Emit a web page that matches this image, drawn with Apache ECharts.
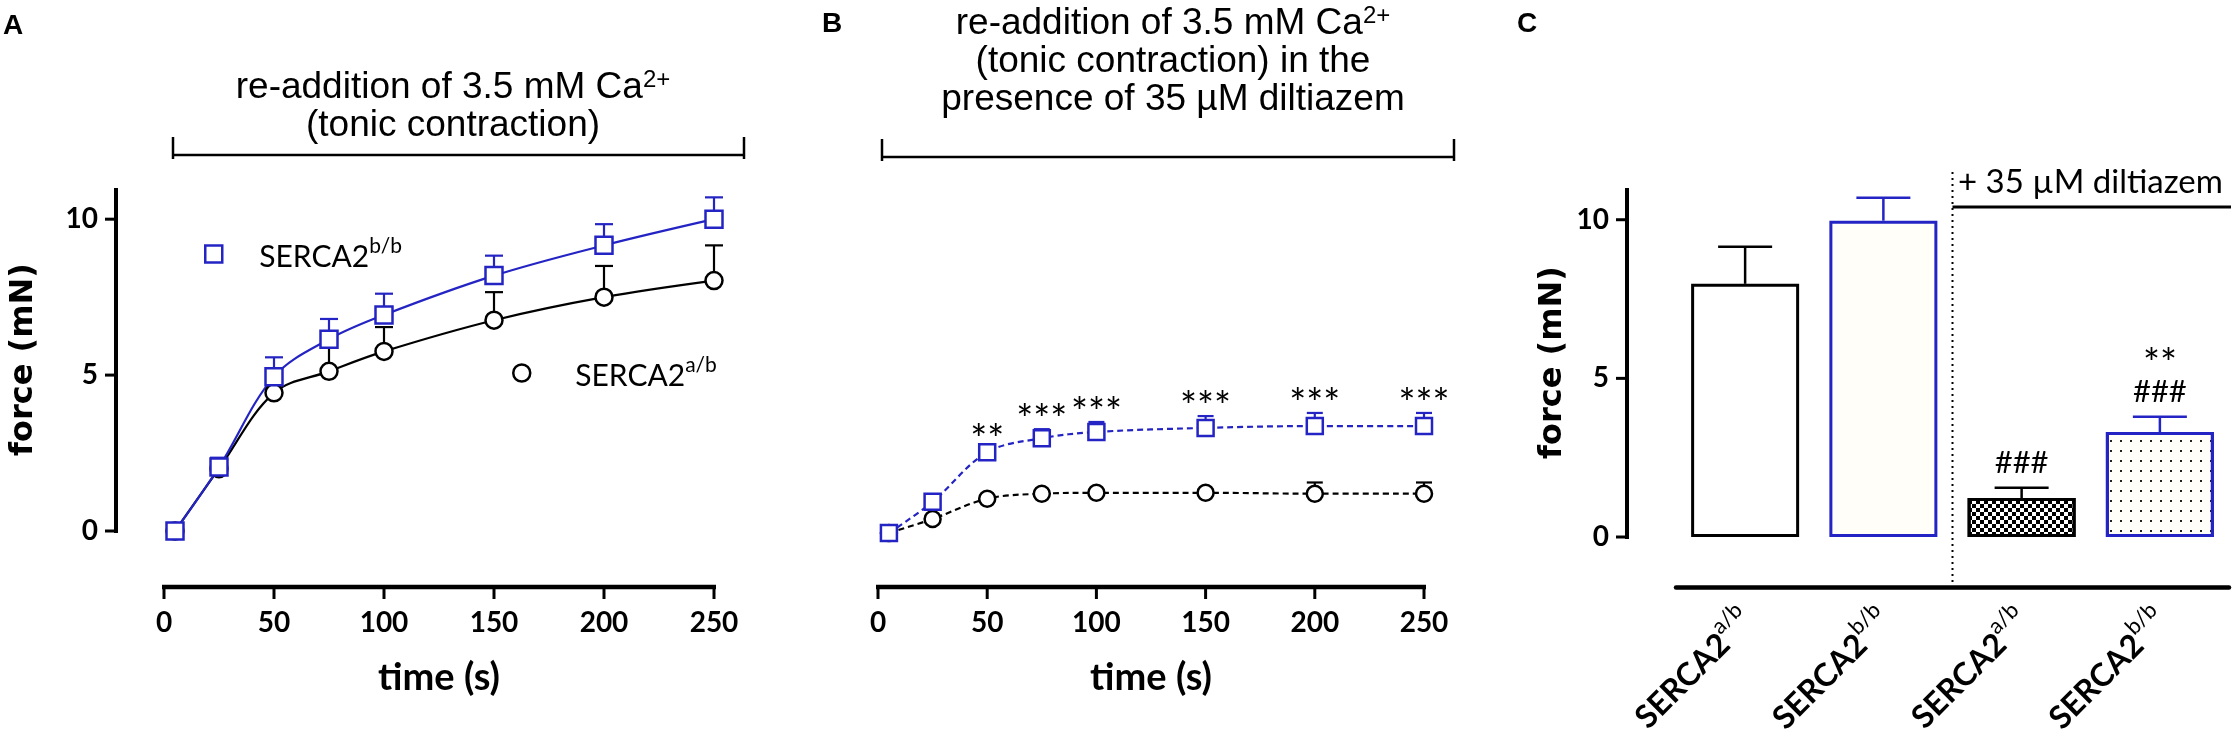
<!DOCTYPE html>
<html>
<head>
<meta charset="utf-8">
<script src="https://cdn.jsdelivr.net/npm/echarts@6/dist/echarts.min.js"></script>
<style>
  html, body { margin: 0; padding: 0; background: #fff; }
  #main { width: 2238px; height: 742px; }
</style>
</head>
<body>
<div id="main"></div>
<script>
// sampling times (s) for panels A and B
var times = [5, 25, 50, 75, 100, 150, 200, 250];
var timeTicks = [0, 50, 100, 150, 200, 250];
var forceTicks = [0, 5, 10];

// panel A: tonic contraction after Ca2+ re-addition (mN), mean and upper SEM
var tonicBB = [0, 2.05, 4.95, 6.15, 6.93, 8.19, 9.16, 10.0];
var tonicBBErr = [0.1, 0.3, 0.62, 0.65, 0.68, 0.64, 0.68, 0.7];
var tonicAB = [0, 2.0, 4.43, 5.12, 5.76, 6.76, 7.5, 8.03];
var tonicABErr = [0.1, 0.2, 0.65, 0.83, 0.78, 0.9, 1.0, 1.13];

// panel B: same protocol with 35 uM diltiazem
var diltBB = [0, 1.0, 2.59, 3.04, 3.24, 3.37, 3.43, 3.43];
var diltBBErr = [0.05, 0.05, 0.1, 0.29, 0.32, 0.38, 0.42, 0.42];
var diltAB = [0, 0.45, 1.1, 1.26, 1.29, 1.29, 1.26, 1.26];
var diltABErr = [0.05, 0.05, 0.05, 0.05, 0.05, 0.1, 0.36, 0.36];
var diltStars = ['', '', '**', '***', '***', '***', '***', '***'];

// panel C: force at 250 s
var barGroups = ['a/b', 'b/b', 'a/b diltiazem', 'b/b diltiazem'];
var barValues = [7.98, 9.97, 1.23, 3.31];
var barErrors = [1.17, 0.72, 0.32, 0.48];
var barMarks = ['', '', '###', '**\n###'];

var nameAB = 'SERCA2 a/b', nameBB = 'SERCA2 b/b';
var blue = '#2424c4';

var chart = echarts.init(document.getElementById('main'));

function pairs(xs, ys, es){
    return xs.map(function(x, i){ return [x, ys[i], es[i]]; });
}

// stars and hashes get their own sizes, like the original figure
var markRich = {
    a: {fontFamily: 'Lato', fontSize: 40, lineHeight: 24, fill: '#000'},
    h: {fontFamily: 'Lato', fontSize: 31, lineHeight: 30, fill: '#000'}
};
function markText(m){
    return m.split('\n').map(function(line){
        return (line.charAt(0) === '*' ? '{a|' : '{h|') + line + '}';
    }).join('\n');
}

function errorBars(color, half, width, marks, gap){
    return function(params, api){
        var x = api.value(0), y = api.value(1), e = api.value(2);
        var p0 = api.coord([x, y]), p1 = api.coord([x, y + e]);
        var st = {stroke: color, lineWidth: width};
        var kids = [
            {type: 'line', shape: {x1: p0[0], y1: p0[1], x2: p1[0], y2: p1[1]}, style: st},
            {type: 'line', shape: {x1: p1[0] - half, y1: p1[1], x2: p1[0] + half, y2: p1[1]}, style: st}
        ];
        var m = marks && marks[params.dataIndex];
        if(m){
            kids.push({
                type: 'text', x: p1[0], y: p1[1] - gap,
                style: {text: markText(m), rich: markRich, fill: '#000',
                        align: 'center', verticalAlign: 'bottom'}
            });
        }
        return {type: 'group', children: kids};
    };
}

function supLabel(name){
    var parts = name.split(' ');
    return '{m|' + parts[0] + '}{s|' + parts[1] + '}';
}

var tickFont = {color: '#000', fontFamily: 'Lato', fontWeight: 'bold', fontSize: 28};
var timeOffsets = [56, 54];
var forceOffsets = [48, 0, 49];
var timeRange = [0, 250], forceRange = [0, 11];

// value-axis lines and ticks are added below as graphics
function timeAxis(grid){
    return {
        type: 'value', gridIndex: grid, min: timeRange[0], max: timeRange[1], interval: 50, offset: timeOffsets[grid],
        axisLine: {show: false, onZero: false}, axisTick: {show: false}, splitLine: {show: false},
        axisLabel: Object.assign({margin: 22}, tickFont),
        name: 'time (s)', nameLocation: 'middle', nameGap: 72,
        nameTextStyle: {color: '#000', fontFamily: 'Lato', fontWeight: 'bold', fontSize: 38}
    };
}

function forceAxis(grid, gap){
    return {
        type: 'value', gridIndex: grid, min: forceRange[0], max: forceRange[1], interval: 5, offset: forceOffsets[grid],
        axisLine: {show: false, onZero: false}, axisTick: {show: false}, splitLine: {show: false},
        axisLabel: Object.assign({margin: 18, customValues: forceTicks}, tickFont),
        name: 'force (mN)', nameLocation: 'middle', nameGap: gap,
        nameTextStyle: {color: '#000', fontFamily: 'DejaVu Sans', fontWeight: 'bold', fontSize: 32}
    };
}

var lineLook = function(color, symbol, dashed){
    return {
        type: 'line', smooth: 0.35, symbol: symbol, symbolSize: 17,
        lineStyle: {color: color, width: 2.2, type: dashed ? [6, 4] : 'solid'},
        itemStyle: {color: '#fff', borderColor: color, borderWidth: 2.5},
        emphasis: {disabled: true}, z: 4
    };
};

var legendRich = {
    m: {fontFamily: 'Lato', fontSize: 30, color: '#000', lineHeight: 36, verticalAlign: 'bottom'},
    s: {fontFamily: 'Lato', fontSize: 21, color: '#000', lineHeight: 22, verticalAlign: 'top'}
};

var barStyles = [
    {color: '#fff', borderColor: '#000', borderWidth: 3},
    {color: '#fffef8', borderColor: blue, borderWidth: 3},
    {color: '#fff', borderColor: '#000', borderWidth: 3,
     decal: {symbol: 'rect', symbolSize: 1, dashArrayX: [[4, 4], [0, 4, 4, 0]], dashArrayY: [4, 0], color: '#000'}},
    {color: '#fffef8', borderColor: blue, borderWidth: 3,
     decal: {symbol: 'rect', symbolSize: 1, dashArrayX: [2, 8], dashArrayY: [2, 8], color: '#222'}}
];
var barColors = ['#000', blue, '#000', blue];

var grids = [
    {left: 164, top: 188, width: 550, height: 343},
    {left: 878, top: 190, width: 546, height: 343},
    {left: 1676, top: 188, width: 553, height: 349}
];

var option = {
    animation: false,
    grid: grids,
    legend: [
        {data: [{name: nameBB, icon: 'rect', itemStyle: {color: '#fff', borderColor: blue, borderWidth: 2.5}}],
         left: 204, top: 236, itemWidth: 17, itemHeight: 17, padding: 0, selectedMode: false,
         formatter: supLabel, textStyle: {rich: Object.assign({}, legendRich, {m: Object.assign({padding: [0, 0, 0, 32]}, legendRich.m)})}},
        {data: [{name: nameAB, icon: 'circle', itemStyle: {color: '#fff', borderColor: '#000', borderWidth: 2.5}}],
         left: 512, top: 355, itemWidth: 17, itemHeight: 17, padding: 0, selectedMode: false,
         formatter: supLabel, textStyle: {rich: Object.assign({}, legendRich, {m: Object.assign({padding: [0, 0, 0, 40]}, legendRich.m)})}}
    ],
    xAxis: [
        timeAxis(0),
        timeAxis(1),
        {
            type: 'category', gridIndex: 2, data: barGroups, offset: 50,
            axisLine: {show: true, onZero: false, lineStyle: {color: '#000', width: 4.5}},
            axisTick: {alignWithLabel: true, length: 12, lineStyle: {color: '#000', width: 3}},
            axisLabel: {
                interval: 0, rotate: 45, margin: 26,
                formatter: function(v){ return '{m|SERCA2}{s|' + v.split(' ')[0] + '}'; },
                rich: {
                    m: {fontFamily: 'Lato', fontWeight: 'bold', fontSize: 32, color: '#000', lineHeight: 40, verticalAlign: 'bottom'},
                    s: {fontFamily: 'Lato', fontSize: 22, color: '#000', lineHeight: 24, verticalAlign: 'top'}
                }
            }
        }
    ],
    yAxis: [
        forceAxis(0, 76),
        {type: 'value', gridIndex: 1, min: 0, max: 11, show: false},
        forceAxis(2, 58)
    ],
    series: [
        // panel A
        {type: 'custom', xAxisIndex: 0, yAxisIndex: 0, z: 2, data: pairs(times, tonicAB, tonicABErr),
         renderItem: errorBars('#000', 9, 2.2)},
        {type: 'custom', xAxisIndex: 0, yAxisIndex: 0, z: 2, data: pairs(times, tonicBB, tonicBBErr),
         renderItem: errorBars(blue, 9, 2.2)},
        Object.assign(lineLook('#000', 'circle', false), {name: nameAB, xAxisIndex: 0, yAxisIndex: 0,
            data: times.map(function(t, i){ return [t, tonicAB[i]]; })}),
        Object.assign(lineLook(blue, 'rect', false), {name: nameBB, xAxisIndex: 0, yAxisIndex: 0,
            data: times.map(function(t, i){ return [t, tonicBB[i]]; })}),
        // panel B
        {type: 'custom', xAxisIndex: 1, yAxisIndex: 1, z: 2, data: pairs(times, diltAB, diltABErr),
         renderItem: errorBars('#000', 8, 2.2)},
        {type: 'custom', xAxisIndex: 1, yAxisIndex: 1, z: 2, data: pairs(times, diltBB, diltBBErr),
         renderItem: errorBars(blue, 8, 2.2, diltStars, -4)},
        Object.assign(lineLook('#000', 'circle', true), {name: nameAB, xAxisIndex: 1, yAxisIndex: 1, symbolSize: 16,
            data: times.map(function(t, i){ return [t, diltAB[i]]; })}),
        Object.assign(lineLook(blue, 'rect', true), {name: nameBB, xAxisIndex: 1, yAxisIndex: 1, symbolSize: 16,
            data: times.map(function(t, i){ return [t, diltBB[i]]; })}),
        // panel C
        {type: 'bar', xAxisIndex: 2, yAxisIndex: 2, barWidth: 108, z: 2,
         emphasis: {disabled: true},
         data: barValues.map(function(v, i){ return {value: v, itemStyle: barStyles[i]}; })},
        {type: 'custom', xAxisIndex: 2, yAxisIndex: 2, z: 1,
         data: barGroups.map(function(g, i){ return [i, barValues[i], barErrors[i]]; }),
         renderItem: function(params, api){
             return errorBars(barColors[params.dataIndex], 27, 2.5, barMarks, 10)(params, api);
         }}
    ]
};

chart.setOption(option);

// pixel position of an axis value; falls back to the grid extent if the lookup gives nothing
function axisPx(kind, idx, v){
    var finder = {};
    finder[kind + 'AxisIndex'] = idx;
    var p = chart.convertToPixel(finder, v);
    if(Array.isArray(p)) p = kind === 'x' ? p[0] : p[1];
    if(typeof p === 'number' && isFinite(p)) return p;
    var g = grids[idx];
    return kind === 'x'
        ? g.left + (v - timeRange[0]) / (timeRange[1] - timeRange[0]) * g.width
        : g.top + g.height - (v - forceRange[0]) / (forceRange[1] - forceRange[0]) * g.height;
}

// axis lines as filled bars on their own layer, ticks as thin bars
function hBar(x1, x2, y, w){
    return {type: 'rect', zlevel: 5, z: 60, silent: true,
            shape: {x: x1, y: y - w / 2, width: x2 - x1, height: w}, style: {fill: '#000'}};
}
function vBar(x, y1, y2, w){
    return {type: 'rect', zlevel: 5, z: 60, silent: true,
            shape: {x: x - w / 2, y: y1, width: w, height: y2 - y1}, style: {fill: '#000'}};
}

function timeAxisLines(idx){
    var g = grids[idx], y = g.top + g.height + timeOffsets[idx];
    var out = [hBar(axisPx('x', idx, timeRange[0]) - 2, axisPx('x', idx, timeRange[1]) + 2, y, 4.5)];
    timeTicks.forEach(function(t){ out.push(vBar(axisPx('x', idx, t), y, y + 12, 3)); });
    return out;
}
function forceAxisLines(idx){
    var g = grids[idx], x = g.left - forceOffsets[idx];
    var out = [vBar(x, axisPx('y', idx, forceRange[1]), axisPx('y', idx, forceRange[0]) + 2, 4)];
    forceTicks.forEach(function(v){ out.push(hBar(x - 11, x, axisPx('y', idx, v), 3)); });
    return out;
}

// annotations: panel letters, protocol titles and brackets, diltiazem divider
var titleRich = {
    n: {fontFamily: 'Liberation Sans', fontSize: 37, lineHeight: 38, color: '#000', verticalAlign: 'bottom'},
    s: {fontFamily: 'Liberation Sans', fontSize: 24, lineHeight: 24, color: '#000', verticalAlign: 'top'}
};
var letterStyle = {fontFamily: 'Liberation Sans', fontWeight: 'bold', fontSize: 28, fill: '#000'};
var splitX = grids[2].left + grids[2].width / 2;

function bracket(x1, x2, y){
    var st = {stroke: '#000', lineWidth: 2.5};
    return [
        {type: 'line', shape: {x1: x1, y1: y, x2: x2, y2: y}, style: st},
        {type: 'line', shape: {x1: x1, y1: y - 18, x2: x1, y2: y + 4}, style: st},
        {type: 'line', shape: {x1: x2, y1: y - 18, x2: x2, y2: y + 4}, style: st}
    ];
}

var graphics = [
    {type: 'text', x: 3, y: 12, style: Object.assign({text: 'A'}, letterStyle)},
    {type: 'text', x: 822, y: 10, style: Object.assign({text: 'B'}, letterStyle)},
    {type: 'text', x: 1517, y: 10, style: Object.assign({text: 'C'}, letterStyle)},
    {type: 'text', x: 453, y: 68, style: {
        text: '{n|re-addition of 3.5 mM Ca}{s|2+}\n{n|(tonic contraction)}',
        rich: titleRich, align: 'center', verticalAlign: 'top'}},
    {type: 'text', x: 1173, y: 4, style: {
        text: '{n|re-addition of 3.5 mM Ca}{s|2+}\n{n|(tonic contraction) in the}\n{n|presence of 35 \u00b5M diltiazem}',
        rich: titleRich, align: 'center', verticalAlign: 'top'}},
    {type: 'line', shape: {x1: splitX, y1: 172, x2: splitX, y2: 585},
     style: {stroke: '#000', lineWidth: 2, lineDash: [2, 4]}},
    {type: 'text', x: 1958, y: 182, style: {text: '+ 35 \u00b5M diltiazem', fontFamily: 'Lato', fontSize: 33,
        fill: '#000', align: 'left', verticalAlign: 'middle'}},
    {type: 'line', shape: {x1: splitX, y1: 207, x2: 2231, y2: 207}, style: {stroke: '#000', lineWidth: 3}}
].concat(bracket(173, 744, 155), bracket(882, 1454, 157),
         timeAxisLines(0), timeAxisLines(1), forceAxisLines(0), forceAxisLines(2));

chart.setOption({graphic: graphics});
</script>
</body>
</html>
